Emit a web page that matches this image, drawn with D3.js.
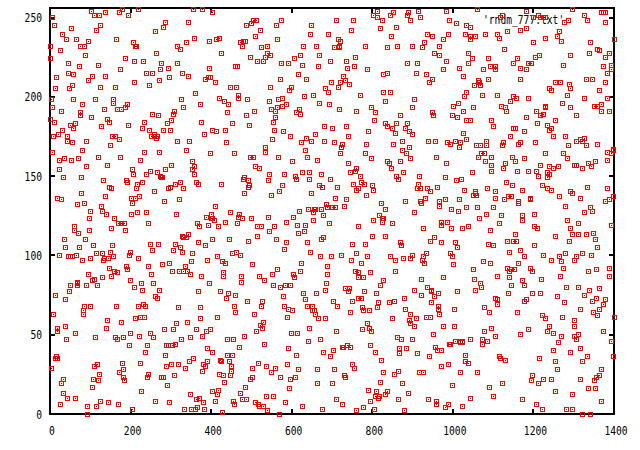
<!DOCTYPE html>
<html>
<head>
<meta charset="utf-8">
<script src="https://cdn.jsdelivr.net/npm/d3@7/dist/d3.min.js"></script>
<style>
html,body{margin:0;padding:0;background:#fff;}
svg{display:block;}
text{font-family:"DejaVu Sans Mono","Liberation Mono",monospace;font-size:12.5px;fill:#000;}
</style>
</head>
<body>
<svg id="c" width="640" height="450"></svg>
<script>
const seriesName = "'rndm_777.txt'";
const xTicks = [0,200,400,600,800,1000,1200,1400];
const yTicks = [0,50,100,150,200,250];
const pointsTopLeft = [[103,254],[179,255],[219,255],[356,255],[378,255],[404,253],[6,250],[110,251],[122,251],[137,253],[172,253],[194,251],[11,245],[53,243],[125,245],[115,242],[286,247],[281,244],[343,247],[261,241],[31,239],[41,236],[65,236],[95,235],[85,232],[75,232],[165,236],[207,234],[211,232],[215,232],[316,232],[338,234],[323,230],[358,237],[395,235],[1,232],[26,229],[88,226],[264,227],[1,224],[45,221],[73,219],[120,220],[187,224],[209,222],[232,222],[276,221],[316,221],[294,218],[395,218],[45,215],[58,214],[174,217],[137,213],[105,213],[239,215],[254,215],[274,217],[328,215],[343,213],[296,212],[385,211],[393,212],[399,212],[16,212],[95,210],[209,209],[271,210],[13,205],[48,205],[55,207],[125,206],[162,206],[246,207],[361,202],[3,198],[58,198],[112,198],[157,198],[157,196],[326,198],[80,195],[373,195],[6,193],[28,191],[135,192],[167,192],[177,192],[187,193],[192,195],[308,191],[306,189],[331,193],[75,190],[75,188],[254,189],[269,188],[103,187],[142,186],[1,186],[11,184],[147,184],[234,184],[301,185],[375,184],[291,183],[50,182],[63,183],[58,180],[127,181],[194,182],[229,180],[246,179],[281,179],[299,179],[31,179],[403,179],[8,175],[21,176],[43,175],[43,172],[155,175],[162,175],[251,175],[259,176],[266,175],[264,174],[259,175],[383,176],[55,171],[90,172],[172,173],[316,172],[346,172],[150,169]];
const pointsTopMiddle = [[812,254],[914,254],[889,253],[852,253],[802,251],[812,250],[844,251],[887,251],[919,250],[574,248],[512,248],[504,248],[500,246],[487,245],[562,245],[648,245],[710,248],[753,248],[825,248],[896,248],[859,244],[820,243],[522,242],[748,242],[646,239],[691,239],[509,238],[847,238],[420,237],[413,236],[564,236],[715,236],[720,235],[485,235],[480,235],[472,234],[477,232],[629,232],[661,232],[782,232],[862,232],[899,232],[929,234],[539,232],[524,231],[705,231],[718,231],[718,232],[839,231],[924,231],[425,227],[539,227],[497,225],[534,225],[547,226],[621,226],[668,226],[758,225],[606,224],[514,222],[529,222],[696,222],[735,222],[887,221],[911,221],[574,221],[591,221],[626,220],[755,219],[738,218],[666,219],[461,219],[466,219],[787,217],[909,215],[839,215],[827,214],[616,214],[728,213],[571,211],[636,211],[733,210],[698,209],[720,209],[743,208],[410,209],[447,206],[462,206],[547,206],[599,206],[715,206],[683,205],[594,204],[691,203],[829,203],[844,203],[467,201],[467,199],[631,200],[653,201],[770,201],[420,199],[490,198],[567,198],[576,199],[906,198],[433,197],[544,197],[668,196],[834,197],[442,195],[586,195],[576,194],[693,195],[549,192],[564,193],[559,191],[619,192],[718,192],[762,191],[797,193],[901,193],[440,190],[507,191],[611,190],[621,189],[807,190],[487,188],[559,187],[869,188],[554,184],[805,185],[452,183],[495,182],[832,183],[859,183],[887,183],[681,181],[700,180],[735,181],[837,181],[849,180],[882,180],[435,179],[557,179],[579,178],[790,178],[857,177],[892,178],[899,176],[413,178],[596,175],[658,176],[740,175],[636,174],[438,171],[552,173],[624,171],[648,172],[681,172],[705,171],[725,170],[723,168],[785,170],[852,170],[874,172],[892,168],[534,168]];
const pointsTopRight = [[983,254],[1060,255],[1182,254],[1298,255],[1122,251],[1118,250],[1212,251],[1199,250],[1218,250],[1224,250],[1231,250],[1326,251],[1368,253],[1373,253],[1378,253],[991,248],[1008,246],[1035,245],[1043,244],[1276,247],[1286,248],[1333,248],[1378,247],[1169,242],[1182,243],[1135,241],[1080,239],[1110,239],[1264,241],[988,239],[936,239],[949,238],[1031,239],[1043,238],[1055,238],[1117,237],[1229,237],[1259,238],[978,236],[1045,236],[1400,236],[1199,234],[1269,235],[1341,234],[968,232],[1127,230],[1358,230],[1363,229],[954,227],[1040,227],[1338,227],[1390,227],[966,226],[1204,225],[1214,226],[1293,226],[1378,225],[1048,224],[1088,224],[1160,224],[983,222],[1038,221],[1150,221],[1187,221],[1194,221],[1274,220],[1395,220],[1373,219],[1016,218],[1093,219],[1105,219],[1167,218],[976,217],[1075,217],[1107,217],[1184,217],[1393,217],[1385,215],[1026,213],[935,214],[949,211],[1088,211],[1169,211],[1331,211],[1346,211],[1063,210],[941,209],[1256,209],[1266,209],[1289,208],[1380,209],[1053,207],[1065,209],[1068,207],[1239,205],[1293,205],[1246,204],[1365,204],[1035,203],[1028,200],[1073,201],[1110,201],[1284,201],[1150,200],[1157,199],[1189,199],[1326,199],[1383,199],[1013,196],[1142,197],[1271,196],[1001,194],[1120,194],[1351,194],[1360,194],[1370,195],[1231,194],[1229,193],[1050,193],[1130,193],[1291,193],[1026,191],[1132,191],[1207,191],[1368,191],[1388,191],[949,190],[951,188],[998,188],[1011,187],[1184,187],[1224,189],[1217,188],[1308,188],[1033,185],[1045,185],[1097,185],[1254,185],[1209,183],[1236,182],[1246,180],[1241,179],[1102,181],[1151,180],[1156,180],[1177,178],[1026,177],[1142,175],[1251,175],[1279,175],[939,172],[956,172],[986,171],[993,170],[1006,172],[1018,171],[1033,173],[1083,172],[1125,171],[1163,170],[1167,171],[1204,171],[1306,172],[1316,173],[1326,174],[1323,172],[1360,170],[1016,168],[1058,169],[1068,169],[1083,169],[1122,169],[1286,169],[1331,169],[1398,167]];
const pointsMidLeft = [[6,165],[80,166],[234,165],[271,165],[338,166],[398,164],[120,162],[174,162],[23,160],[36,161],[53,160],[70,161],[224,160],[353,159],[90,156],[142,157],[301,157],[358,156],[23,154],[204,154],[249,153],[286,154],[353,154],[207,151],[239,151],[266,152],[358,151],[274,150],[276,149],[280,149],[33,149],[78,149],[189,147],[192,146],[132,147],[229,146],[323,146],[363,146],[217,145],[311,145],[368,145],[147,143],[152,142],[214,142],[299,143],[294,142],[331,142],[78,139],[259,140],[137,137],[202,136],[212,136],[222,137],[18,136],[28,135],[284,134],[321,135],[204,133],[85,133],[68,132],[127,131],[100,128],[130,128],[140,126],[202,126],[217,127],[239,127],[313,126],[400,126],[98,123],[160,123],[388,124],[400,123],[403,123],[170,120],[177,120],[184,120],[244,120],[366,120],[393,119],[60,118],[370,118],[152,117],[60,116],[98,116],[187,116],[70,114],[328,112],[343,113],[331,111],[338,111],[36,110],[88,110],[403,110],[249,107],[269,107],[311,107],[368,108],[108,106],[155,106],[38,105],[73,105],[323,105],[385,106],[254,103],[306,103],[150,102],[199,102],[328,102],[23,100],[45,99],[50,99],[55,99],[65,100],[115,101],[130,101],[197,100],[353,101],[80,97],[100,98],[135,98],[132,97],[145,98],[157,99],[219,98],[390,97],[351,96],[296,95],[279,94],[189,93],[244,93],[336,93],[147,92],[192,91],[160,90],[304,90],[321,90],[331,90],[341,90],[167,89],[251,88],[348,88],[95,88],[130,86],[152,87],[375,87],[110,85],[105,84],[68,83],[68,82],[68,81],[199,84],[50,81],[90,81],[117,81],[227,82],[256,82],[209,80],[395,82],[229,78],[271,78]];
const pointsMidMiddle = [[457,164],[504,162],[497,162],[534,165],[566,162],[633,166],[638,162],[663,160],[720,164],[782,164],[797,161],[874,166],[884,164],[896,161],[601,159],[740,158],[837,159],[842,158],[869,159],[509,156],[519,155],[760,155],[847,155],[758,153],[745,152],[544,151],[581,151],[626,152],[643,152],[673,151],[877,152],[770,150],[609,150],[611,148],[643,148],[696,148],[859,150],[864,148],[916,150],[480,148],[483,149],[492,147],[495,144],[492,143],[542,147],[425,145],[576,144],[668,144],[676,143],[713,143],[753,145],[772,146],[780,145],[800,144],[914,145],[767,142],[762,141],[802,141],[911,142],[919,142],[482,139],[549,138],[569,140],[648,139],[785,138],[708,136],[735,135],[919,134],[921,133],[882,134],[822,133],[410,131],[686,132],[730,131],[641,129],[658,129],[656,129],[673,129],[688,130],[700,130],[708,130],[834,129],[447,127],[619,128],[653,127],[470,126],[904,127],[467,124],[477,123],[542,124],[500,123],[604,124],[678,125],[817,125],[408,122],[653,122],[802,122],[825,123],[829,123],[435,121],[465,120],[586,121],[614,119],[633,119],[693,120],[825,121],[849,120],[418,118],[514,118],[524,118],[557,118],[767,118],[926,117],[544,115],[631,115],[616,114],[514,112],[800,112],[832,112],[445,110],[492,109],[562,110],[673,110],[678,111],[586,108],[638,108],[750,107],[782,107],[869,108],[872,106],[581,104],[646,102],[462,102],[452,101],[472,100],[760,101],[415,99],[671,99],[698,99],[723,100],[787,99],[844,99],[877,98],[894,98],[901,100],[926,99],[857,97],[748,97],[924,97],[929,95],[428,96],[435,95],[624,95],[502,94],[772,95],[688,93],[564,91],[621,90],[552,88],[604,88],[606,86],[688,88],[430,89],[430,87],[475,87],[519,87],[758,90],[767,89],[795,89],[857,90],[765,86],[777,86],[921,85],[827,84],[532,84],[475,83],[554,81],[571,80],[584,81],[596,81],[686,82],[820,81],[733,79],[743,79],[683,78],[904,78],[906,78]];
const pointsMidRight = [[1383,165],[1393,164],[1398,166],[1274,164],[1231,164],[1284,161],[1147,162],[1097,162],[1063,162],[1070,164],[1078,164],[1179,161],[959,162],[1385,160],[983,158],[1080,159],[1095,157],[1130,158],[1155,159],[1125,155],[1217,157],[1239,156],[1261,156],[1251,155],[1303,157],[1308,157],[1336,158],[1353,159],[1343,156],[1323,155],[1097,153],[1160,153],[1187,153],[1207,153],[1234,152],[1241,151],[1212,150],[1048,152],[981,149],[1021,148],[1008,147],[1236,149],[1132,146],[1147,144],[1222,144],[1333,143],[1383,142],[961,143],[936,142],[944,140],[1028,141],[1085,142],[1105,140],[1172,141],[1234,142],[1246,141],[1291,140],[1296,139],[1055,140],[1050,138],[1058,138],[1055,139],[1107,136],[1137,137],[1145,137],[1264,137],[1318,136],[1398,137],[1192,136],[1192,135],[1388,135],[1378,134],[933,136],[968,134],[981,135],[1016,135],[1127,135],[1164,134],[1162,133],[1279,131],[966,131],[996,129],[1013,128],[1035,130],[1060,130],[1102,130],[1341,130],[1328,127],[1346,128],[1083,126],[1202,126],[1120,125],[1174,125],[1174,122],[1065,123],[1284,122],[973,121],[986,121],[973,119],[1115,120],[1311,120],[1395,119],[996,117],[1023,117],[1038,118],[1202,118],[1209,117],[1093,116],[1291,117],[1155,113],[1298,113],[1313,113],[1331,113],[1348,114],[1256,112],[954,111],[944,109],[1135,109],[1150,109],[1157,109],[1353,110],[1289,109],[971,108],[1006,108],[1088,107],[1100,106],[1202,106],[1011,105],[1358,105],[1140,102],[1169,103],[993,101],[998,99],[935,101],[1226,100],[1179,99],[1264,99],[1279,101],[1321,101],[1343,100],[1308,99],[1303,97],[1244,97],[1075,96],[1093,95],[1162,95],[1269,96],[1001,94],[1050,91],[1135,92],[1145,91],[1152,91],[1192,92],[1197,90],[1140,90],[1274,92],[1336,90],[1356,91],[1390,92],[978,86],[1053,85],[1112,87],[1140,86],[1219,85],[1266,87],[1388,87],[1172,84],[936,80],[946,78],[1068,82],[1070,80],[1145,81],[1179,81],[1281,80],[1311,80],[1338,78],[1365,79],[1055,78]];
const pointsBottomLeft = [[13,75],[48,77],[368,77],[38,72],[261,74],[266,73],[85,68],[100,68],[165,68],[219,68],[232,69],[237,68],[318,67],[373,67],[83,65],[83,63],[8,63],[142,59],[212,60],[224,61],[234,61],[373,60],[177,58],[313,57],[341,58],[140,54],[18,54],[18,52],[38,55],[284,53],[306,53],[363,53],[388,52],[398,53],[63,51],[199,51],[249,51],[222,49],[378,49],[112,48],[162,48],[167,47],[182,48],[256,48],[326,47],[348,48],[41,47],[197,43],[241,43],[289,43],[294,43],[304,43],[311,44],[390,41],[403,39],[237,39],[286,37],[13,35],[18,35],[16,36],[390,33],[356,35],[346,33],[117,31],[179,32],[224,32],[110,30],[301,31],[318,31],[289,30],[380,31],[385,30],[3,29],[182,28],[336,29],[378,27],[172,26],[122,25],[244,25],[241,23],[33,22],[108,22],[120,21],[182,23],[184,21],[276,23],[281,23],[308,24],[28,19],[105,17],[291,18],[227,14],[403,14],[33,13],[348,12],[43,10],[63,10],[363,9],[370,10],[125,8],[145,7],[170,6],[261,8],[296,7],[380,7],[26,6],[93,5],[115,5],[366,4],[204,3],[333,3],[351,3],[361,3],[383,3],[93,0]];
const pointsBottomMiddle = [[423,77],[442,76],[460,75],[437,73],[579,74],[629,76],[661,76],[740,77],[780,77],[810,76],[879,73],[921,75],[633,72],[490,71],[527,71],[703,71],[750,71],[765,73],[772,73],[854,71],[842,70],[815,70],[457,68],[524,68],[581,68],[638,68],[651,68],[713,68],[775,67],[812,67],[591,66],[601,65],[651,65],[656,65],[658,63],[745,64],[777,65],[792,65],[882,66],[460,64],[507,63],[896,63],[415,61],[589,61],[666,60],[683,60],[849,60],[909,60],[892,59],[894,57],[529,58],[522,56],[527,54],[512,52],[787,57],[906,55],[643,54],[792,54],[797,52],[775,53],[710,52],[599,51],[614,51],[482,49],[440,47],[455,47],[671,47],[641,46],[862,48],[872,47],[901,47],[532,44],[738,43],[470,42],[725,42],[728,42],[745,42],[795,43],[591,41],[703,40],[867,41],[884,41],[678,39],[807,39],[867,38],[911,38],[440,37],[452,37],[611,37],[696,36],[423,34],[425,33],[445,33],[822,34],[517,32],[589,31],[750,31],[450,30],[537,30],[502,29],[559,29],[616,28],[663,28],[705,28],[755,29],[450,27],[549,26],[829,26],[864,27],[854,25],[916,26],[926,26],[420,25],[430,24],[447,24],[502,23],[497,22],[571,23],[609,23],[596,22],[730,24],[733,23],[433,20],[663,19],[700,19],[820,20],[874,19],[485,17],[594,16],[418,15],[790,15],[810,14],[839,14],[472,13],[889,13],[415,12],[537,11],[554,11],[807,11],[817,11],[815,10],[834,12],[710,9],[864,9],[477,9],[487,9],[795,8],[410,8],[455,8],[457,6],[509,7],[517,6],[519,5],[529,5],[584,7],[626,5],[725,6],[539,2],[676,3],[762,2],[777,4],[805,3],[879,2],[428,1],[569,0]];
const pointsBottomRight = [[946,77],[964,76],[1011,77],[1137,76],[1197,76],[1217,76],[1259,74],[1328,75],[1356,73],[954,74],[1107,73],[1112,72],[1112,69],[1184,72],[1177,71],[1346,71],[1380,72],[1375,69],[1276,70],[946,70],[964,68],[964,66],[1003,66],[1078,67],[1090,64],[1160,64],[1222,62],[1231,60],[1316,66],[1363,66],[1348,64],[1360,62],[968,63],[944,61],[935,61],[1271,61],[1400,61],[1301,59],[976,55],[1003,55],[1095,54],[1078,52],[1241,55],[1303,55],[1189,53],[1236,52],[1249,51],[1373,52],[951,50],[1167,50],[1105,49],[1269,49],[1301,49],[1313,50],[1306,47],[1045,47],[1073,47],[1085,46],[1073,44],[1006,46],[991,44],[994,44],[1018,46],[1023,46],[1018,45],[1023,45],[1261,45],[1393,46],[956,42],[961,40],[971,40],[1249,40],[1293,39],[1316,41],[941,36],[1031,37],[1115,36],[1118,35],[1130,34],[1214,35],[1333,36],[1398,36],[1031,33],[1040,32],[1254,33],[1321,33],[973,30],[988,31],[1259,28],[1368,28],[1018,26],[1060,26],[1197,24],[1194,21],[1226,22],[1244,22],[1318,22],[1356,23],[1365,24],[1351,21],[1212,19],[1122,19],[998,18],[1090,17],[1336,16],[1353,16],[1254,14],[1296,12],[1100,11],[1043,10],[939,9],[1174,9],[1370,8],[959,8],[959,6],[988,6],[981,4],[1023,5],[1207,6],[1222,3],[1281,3],[1298,3],[1321,0],[1341,0]];

const points = [].concat(pointsTopLeft, pointsTopMiddle, pointsTopRight, pointsMidLeft, pointsMidMiddle, pointsMidRight, pointsBottomLeft, pointsBottomMiddle, pointsBottomRight);

const svg = d3.select('#c');
const left = 50, right = 614, top_ = 8, bottom = 414;
const x = d3.scaleLinear().domain([0,1400]).range([left,right]);
const y = d3.scaleLinear().domain([0,256]).range([bottom,top_]);
const tickLen = 5;

const frame = svg.append('g').attr('shape-rendering','crispEdges').attr('stroke','#000').attr('stroke-width',2);
const seg = (x1,y1,x2,y2) => frame.append('line').attr('x1',x1).attr('y1',y1).attr('x2',x2).attr('y2',y2);
xTicks.forEach(t => {
  if (t > 0 && t < 1400) {
    seg(x(t),bottom,x(t),bottom-tickLen);
    seg(x(t),top_,x(t),top_+tickLen);
  }
});
yTicks.forEach(t => {
  if (t > 0) {
    seg(left,y(t),left+tickLen,y(t));
    seg(right,y(t),right-tickLen,y(t));
  }
});
frame.append('rect').attr('x',left).attr('y',top_).attr('width',right-left).attr('height',bottom-top_).attr('fill','none');

const label = (s,cx,baseline,anchor) => {
  const w = 5.8 * s.length;
  const startX = anchor === 'end' ? cx - w : (anchor === 'middle' ? cx - w/2 : cx);
  svg.append('text').attr('x',startX).attr('y',baseline)
    .attr('textLength',w).attr('lengthAdjust','spacingAndGlyphs').text(s);
};
xTicks.forEach(t => label(String(t), x(t)+2, 435, 'start' === '' ? '' : 'middle'));
yTicks.forEach(t => label(String(t), 42, y(t)+4.5, 'end'));
label(seriesName, 483, 24, 'start');

const marks = svg.append('g').attr('shape-rendering','crispEdges');
marks.selectAll('rect').data(points).enter().append('rect')
  .attr('x', d => Math.floor(x(d[0])) - 1.5)
  .attr('y', d => Math.floor(y(d[1])) - 1.5)
  .attr('width',4).attr('height',4)
  .attr('fill','none').attr('stroke','#ff0000').attr('stroke-width',1);
marks.selectAll('circle.none').data([]);
const dots = svg.append('g').attr('shape-rendering','crispEdges');
dots.selectAll('rect').data(points).enter().append('rect')
  .attr('x', d => Math.floor(x(d[0])))
  .attr('y', d => Math.floor(y(d[1])))
  .attr('width',1).attr('height',1)
  .attr('fill','#333');
</script>
</body>
</html>
